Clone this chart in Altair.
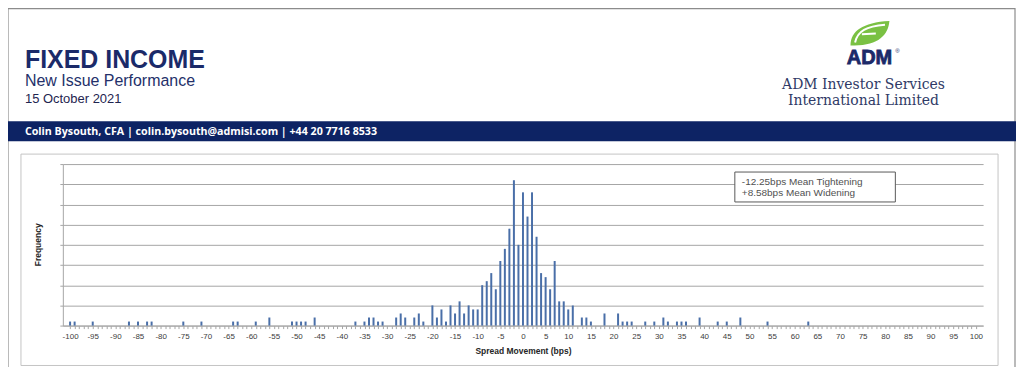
import altair as alt
import pandas as pd

# ---- data ----
spread_bps = [-100, -99, -95, -87, -85, -83, -82, -75, -71, -64, -63, -59, -56, -51, -50, -49, -48, -46,
              -37, -35, -34, -33, -32, -31, -28, -27, -26, -24, -23, -22, -20, -19, -18, -17, -16, -15,
              -14, -13, -12, -11, -10, -9, -8, -7, -6, -5, -4, -3, -2, -1, 0, 1, 2, 3, 4, 5, 6, 7, 8, 9,
              10, 11, 13, 14, 15, 18, 21, 22, 23, 24, 27, 29, 31, 32, 34, 35, 36, 39, 43, 45, 48, 54, 63]
frequency = [1, 1, 1, 1, 1, 1, 1, 1, 1, 1, 1, 1, 2, 1, 1, 1, 1, 2,
             1, 1, 2, 2, 1, 1, 2, 3, 2, 2, 3, 1, 5, 2, 4, 1, 5, 3,
             6, 3, 5, 4, 4, 10, 11, 13, 9, 16, 19, 24, 36, 20, 33, 27, 33, 22, 13, 12, 9, 16, 6, 6,
             4, 5, 2, 2, 1, 3, 3, 1, 1, 1, 1, 1, 2, 1, 1, 1, 1, 2, 1, 1, 2, 1, 1]
y_ticks = [0, 5, 10, 15, 20, 25, 30, 35, 40]
x_ticks = list(range(-100, 101))
x_domain = [-100.5, 100.5]

title_text = "FIXED INCOME"
subtitle_text = "New Issue Performance"
date_text = "15 October 2021"
band_text = "Colin Bysouth, CFA | colin.bysouth@admisi.com | +44 20 7716 8533"
company_lines = ["ADM Investor Services", "International Limited"]
note_lines = ["-12.25bps Mean Tightening", "+8.58bps Mean Widening"]
x_title = "Spread Movement (bps)"
y_title = "Frequency"

NAVY = "#1b2a69"
GRID = "#a6a6a6"
BAR = "#4a6fa8"

df = pd.DataFrame({"spread": spread_bps, "freq": frequency})
one = pd.DataFrame({"k": [0]})


def txt(text, x, y, size, color, weight="normal", font="Liberation Sans",
        align="left", baseline="alphabetic", angle=0, **extra):
    return alt.Chart(one).mark_text(
        text=text, fontSize=size, color=color, fontWeight=weight, font=font,
        align=align, baseline=baseline, angle=angle, **extra
    ).encode(x=alt.value(x), y=alt.value(y))


def box(x, x2, y, y2, fill="white", fill_opacity=1.0, stroke=None, sw=1.0):
    kw = dict(fill=fill, fillOpacity=fill_opacity)
    if stroke:
        kw.update(stroke=stroke, strokeWidth=sw)
    else:
        kw.update(strokeWidth=0)
    return alt.Chart(one).mark_rect(**kw).encode(
        x=alt.value(x), x2=alt.value(x2), y=alt.value(y), y2=alt.value(y2))


# plot origin is at page (63,164)
outer = box(-55, 955, -156, 260, fill_opacity=0, stroke="#8c8c8c", sw=1.2)
band = box(-55, 956, -43, -23, fill="#0d2364")
chart_box = box(-42, 938, -10, 202, fill_opacity=0, stroke="#c4c4c4", sw=1)

leaf_path = "M -0.95 0.6 C -0.95 -0.1 -0.35 -0.55 1 -0.62 C 0.95 0.1 0.4 0.66 -0.95 0.6 Z"
swoosh_path = "M -0.72 0.45 C -0.6 -0.12 -0.15 -0.36 0.78 -0.44 M -0.38 0.04 L 0.32 0.0"
leaf = alt.Chart(one).mark_point(shape=leaf_path, size=1600, filled=True, fill="#7ac143",
                                 strokeWidth=0, opacity=1).encode(
    x=alt.value(809), y=alt.value(-131))
swoosh = alt.Chart(one).mark_point(shape=swoosh_path, size=1600, filled=False, stroke="white",
                                   strokeWidth=2, opacity=1).encode(
    x=alt.value(809), y=alt.value(-131))

bars = alt.Chart(df).mark_bar(width=2, color=BAR).encode(
    x=alt.X("spread:Q", scale=alt.Scale(domain=x_domain, nice=False, zero=False),
            axis=alt.Axis(values=x_ticks, title=None, grid=False,
                          labelExpr="datum.value % 5 === 0 ? '' + datum.value : ''",
                          tickSize=3, tickColor=GRID, domainColor=GRID,
                          labelFontSize=8, labelFont="Liberation Sans", labelColor="#404040",
                          labelPadding=4, labelOverlap=False, labelFlush=False, labelBound=False)),
    y=alt.Y("freq:Q", scale=alt.Scale(domain=[0, 40], nice=False),
            axis=alt.Axis(values=y_ticks, labels=False, title=None, grid=True, gridColor=GRID,
                          tickSize=3, tickColor=GRID, domainColor=GRID)),
)

note_box = box(674, 835, 8, 38, fill="white", stroke="#595959", sw=1)

layers = [
    outer, band, chart_box,
    txt(title_text, -38, -96, 25, NAVY, weight="bold"),
    txt(subtitle_text, -38, -78, 16, "#24306a"),
    txt(date_text, -38, -61, 13, "#1f2550"),
    txt(band_text, -38, -29, 10.7, "white", weight="bold", font="Open Sans"),
    leaf, swoosh,
    txt("ADM", 809, -100, 20, NAVY, weight="bold", align="center", stroke=NAVY, strokeWidth=0.8),
    txt("®", 837, -111, 6, NAVY, align="center"),
    txt(company_lines[0], 803, -75, 14, "#2f3a66", font="DejaVu Serif", align="center"),
    txt(company_lines[1], 803, -59, 14, "#2f3a66", font="DejaVu Serif", align="center"),
    bars,
    note_box,
    txt(note_lines[0], 681, 21, 10, "#505050"),
    txt(note_lines[1], 681, 32, 10, "#505050"),
    txt(y_title, -25, 81, 8.5, "#262626", weight="bold", align="center", baseline="middle", angle=270),
    txt(x_title, 462, 187, 8.5, "#262626", weight="bold", align="center", baseline="middle"),
]

chart = alt.layer(*layers).properties(
    width=923, height=162,
    padding={"left": 55, "top": 156, "right": 33, "bottom": 41},
    autosize=alt.AutoSizeParams(type="none"),
    background="white",
).configure_view(stroke=None)

chart.save("out.html", embed_options={"renderer": "svg", "actions": False})
